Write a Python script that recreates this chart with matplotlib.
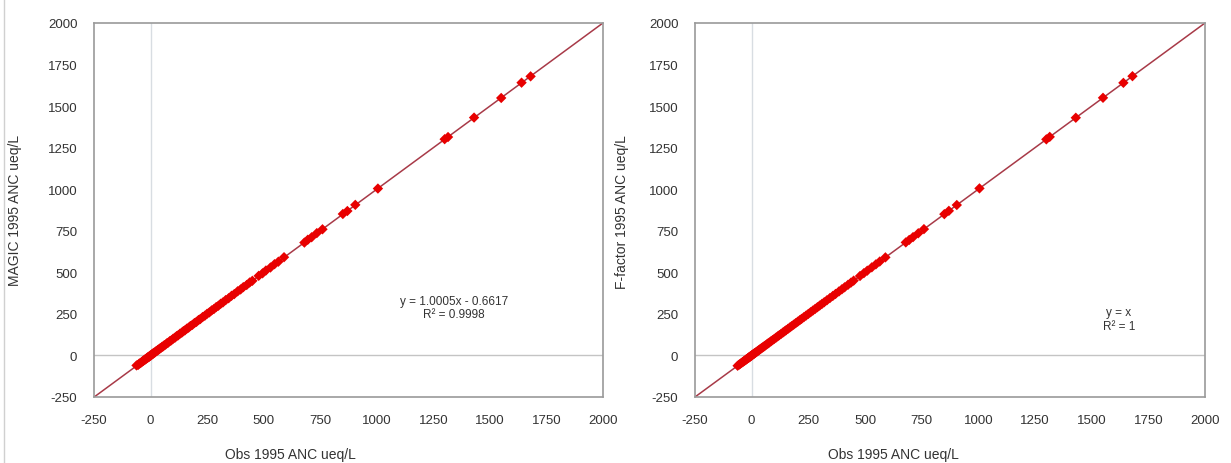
import matplotlib
matplotlib.use("Agg")
import matplotlib.pyplot as plt
from matplotlib.lines import Line2D

plt.rcParams['font.family'] = ['Liberation Sans', 'DejaVu Sans']
plt.rcParams['axes.unicode_minus'] = False

# Observed 1995 ANC (ueq/L)
obs = [-62, -55, -50, -45, -40, -36, -32, -28, -25, -22, -18, -15, -12, -10, -7, -5,
       -3, 0, 2, 5, 8, 10, 13, 16, 20, 24, 28, 32, 36, 40, 45, 50, 55, 60, 66, 72,
       78, 85, 92, 100, 108, 115, 122, 130, 138, 145, 152, 160, 168, 176, 185, 194,
       203, 212, 220, 230, 240, 250, 260, 270, 280, 290, 300, 310, 320, 332, 345,
       358, 370, 385, 398, 410, 425, 438, 450, 478, 495, 510, 530, 548, 565, 590,
       680, 695, 712, 735, 760, 850, 870, 905, 1005, 1300, 1315, 1430, 1550, 1640, 1680]

# MAGIC simulated 1995 ANC (ueq/L)
magic = [-60, -57, -49, -46, -41, -35, -33, -27, -26, -21, -19, -14, -13, -9, -8, -6,
         -2, -1, 1, 6, 7, 11, 12, 17, 19, 25, 27, 33, 35, 41, 44, 51, 54, 61, 65, 73,
         77, 86, 91, 101, 107, 116, 121, 131, 137, 146, 151, 161, 167, 177, 184, 195,
         202, 213, 219, 231, 239, 251, 259, 271, 279, 291, 299, 311, 319, 333, 344,
         359, 369, 386, 397, 411, 424, 439, 449, 479, 494, 511, 529, 549, 564, 591,
         679, 696, 711, 736, 759, 851, 869, 906, 1004, 1301, 1314, 1431, 1549, 1641, 1679]

# F-factor simulated 1995 ANC (ueq/L)
ffactor = [-62, -55, -50, -45, -40, -36, -32, -28, -25, -22, -18, -15, -12, -10, -7, -5,
           -3, 0, 2, 5, 8, 10, 13, 16, 20, 24, 28, 32, 36, 40, 45, 50, 55, 60, 66, 72,
           78, 85, 92, 100, 108, 115, 122, 130, 138, 145, 152, 160, 168, 176, 185, 194,
           203, 212, 220, 230, 240, 250, 260, 270, 280, 290, 300, 310, 320, 332, 345,
           358, 370, 385, 398, 410, 425, 438, 450, 478, 495, 510, 530, 548, 565, 590,
           680, 695, 712, 735, 760, 850, 870, 905, 1005, 1300, 1315, 1430, 1550, 1640, 1680]

ticks = [-250, 0, 250, 500, 750, 1000, 1250, 1500, 1750, 2000]
trend_x = [-250, 2000]
magic_slope, magic_icpt = 1.0005, -0.6617
ff_slope, ff_icpt = 1.0, 0.0

fig = plt.figure(figsize=(12.31, 4.64), dpi=100)
ax1 = fig.add_axes([94 / 1231, 1 - 398 / 464, 509 / 1231, 374 / 464])
ax2 = fig.add_axes([695 / 1231, 1 - 398 / 464, 510 / 1231, 374 / 464])

tc = '#333333'

def style(ax, yvals, slope, icpt, eqtext, tx, ty):
    ax.set_xlim(-250, 2000)
    ax.set_ylim(-250, 2000)
    ax.set_xticks(ticks)
    ax.set_yticks(ticks)
    ax.tick_params(axis='y', length=0, labelsize=9.5, colors=tc, pad=12)
    ax.tick_params(axis='x', length=0, labelsize=9.5, colors=tc, pad=12)
    for s in ax.spines.values():
        s.set_color('#9a9a9a')
        s.set_linewidth(1.2)
    ax.axhline(0, color='#c4c4c4', lw=1.0, zorder=1)
    ax.axvline(0, color='#d8dde2', lw=1.0, zorder=1)
    ax.plot(trend_x, [slope * x + icpt for x in trend_x], color='#a83a48', lw=1.1,
            zorder=2)
    ax.scatter(obs, yvals, marker='D', s=28, color='#e80000', edgecolors='none',
               zorder=3)
    ax.text(tx, ty, eqtext, ha='center', va='center', fontsize=8.5, color=tc,
            linespacing=1.15)

style(ax1, magic, magic_slope, magic_icpt, "y = 1.0005x - 0.6617\nR² = 0.9998", 1340, 290)
style(ax2, ffactor, ff_slope, ff_icpt, "y = x\nR² = 1", 1620, 220)

fig.text(290 / 1231, 1 - 455 / 464, "Obs 1995 ANC ueq/L", ha='center', va='center',
         fontsize=10, color=tc)
fig.text(893 / 1231, 1 - 455 / 464, "Obs 1995 ANC ueq/L", ha='center', va='center',
         fontsize=10, color=tc)
fig.text(15 / 1231, 1 - 210 / 464, "MAGIC 1995 ANC ueq/L", ha='center', va='center',
         rotation=90, fontsize=10, color=tc)
fig.text(622 / 1231, 1 - 212 / 464, "F-factor 1995 ANC ueq/L", ha='center', va='center',
         rotation=90, fontsize=10, color=tc)

# thin border line at the far left of the figure
fig.add_artist(Line2D([4 / 1231, 4 / 1231], [0, 1], transform=fig.transFigure,
                      color='#d0d0d0', lw=1))

fig.savefig("out.png", dpi=100)
